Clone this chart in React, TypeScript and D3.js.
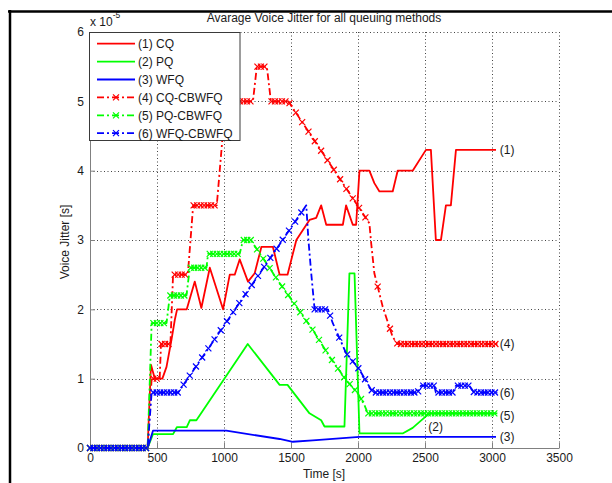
import React, { useRef, useEffect } from 'react'
import * as d3 from 'd3'

// values, jitter in units of 1e-5 s
const cqTime = [0, 430, 455, 484, 540, 571, 608, 633, 650, 722, 782, 831, 894, 993, 1043, 1080, 1117, 1179, 1229, 1279, 1365, 1415, 1474, 1540, 1638, 1688, 1725, 1763, 1887, 1911, 1961, 1986, 2011, 2085, 2122, 2160, 2259, 2296, 2408, 2507, 2544, 2581, 2619, 2656, 2693, 2731, 3030]
const cqJitter = [0, 0, 1.2, 1.0, 1.0, 1.17, 1.56, 1.85, 2.0, 2.0, 2.4, 2.02, 2.6, 2.0, 2.5, 2.5, 2.72, 2.4, 2.52, 2.9, 2.9, 2.5, 2.5, 3.0, 3.29, 3.32, 3.5, 3.22, 3.22, 3.5, 3.22, 3.22, 4.0, 4.0, 3.82, 3.7, 3.7, 4.0, 4.0, 4.3, 4.3, 3.0, 3.0, 3.5, 3.5, 4.3, 4.3]

const pqTime = [0, 430, 470, 620, 648, 722, 745, 794, 1177, 1415, 1474, 1638, 1725, 1750, 1899, 1936, 1974, 2011, 2333, 2408, 2532, 3030]
const pqJitter = [0, 0, 0.2, 0.2, 0.3, 0.3, 0.4, 0.4, 1.5, 0.91, 0.91, 0.5, 0.4, 0.31, 0.31, 2.52, 2.52, 0.21, 0.21, 0.29, 0.5, 0.5]

const wfqTime = [0, 430, 470, 1017, 1415, 1514, 1663, 2011, 3030]
const wfqJitter = [0, 0, 0.25, 0.25, 0.13, 0.09, 0.11, 0.16, 0.16]

const cqCbTime = [0, 430, 460, 520, 530, 600, 620, 730, 770, 946, 990, 1010, 1216, 1245, 1320, 1350, 1480, 2085, 2098, 2122, 2184, 2259, 2296, 3040]
const cqCbJitter = [0, 0, 1.0, 1.0, 1.5, 1.5, 2.5, 2.5, 3.5, 3.5, 4.5, 5.0, 5.0, 5.5, 5.5, 5.0, 5.0, 3.24, 2.96, 2.52, 2.04, 1.6, 1.5, 1.5]

const pqCbTime = [0, 430, 460, 571, 596, 720, 745, 869, 881, 1117, 1142, 1200, 1415, 1514, 1663, 1787, 1911, 1998, 2048, 2073, 3040]
const pqCbJitter = [0, 0, 1.8, 1.8, 2.2, 2.2, 2.6, 2.6, 2.8, 2.8, 3.0, 3.0, 2.38, 2.11, 1.7, 1.32, 0.98, 0.79, 0.62, 0.5, 0.5]

const wfqCbTime = [0, 430, 460, 658, 1614, 1630, 1651, 1676, 1775, 1812, 1911, 2011, 2098, 2122, 2445, 2470, 2569, 2581, 2706, 2731, 2830, 2867, 3040]
const wfqCbJitter = [0, 0, 0.8, 0.8, 3.5, 3.0, 2.52, 2.0, 2.0, 1.8, 1.37, 1.13, 0.84, 0.8, 0.8, 0.9, 0.9, 0.8, 0.8, 0.9, 0.9, 0.8, 0.8]

const seriesNames = ["(1) CQ", "(2) PQ", "(3) WFQ", "(4) CQ-CBWFQ", "(5) PQ-CBWFQ", "(6) WFQ-CBWFQ"]
const seriesColors = ["#ff0000", "#00ff00", "#0000ff", "#ff0000", "#00ff00", "#0000ff"]
const seriesDashed = [false, false, false, true, true, true]

const xTicks = [0, 500, 1000, 1500, 2000, 2500, 3000, 3500]
const yTicks = [0, 1, 2, 3, 4, 5, 6]

const endLabels = ["(1)", "(2)", "(3)", "(4)", "(5)", "(6)"]
const endLabelTime = [3058, 2525, 3058, 3058, 3058, 3058]
const endLabelJitter = [4.3, 0.3, 0.16, 1.51, 0.47, 0.79]

const FONT = "'Liberation Sans', Arial, sans-serif"
const FS = 12

// x markers spaced along the drawn line (denser where it runs flat)
function markerSpots(pts: [number, number][], step: number) {
    const out: [number, number][] = [pts[0]]
    let acc = 0
    for (let i = 1; i < pts.length; i++) {
        const [x0, y0] = pts[i - 1]
        const [x1, y1] = pts[i]
        const dx = x1 - x0, dy = y1 - y0
        const ds = Math.hypot(dx, dy)
        if (ds === 0) continue
        const c = dx * dx / ds
        let pos = 0
        while (c > 0 && acc + (c - pos) >= step) {
            pos += step - acc
            acc = 0
            const f = pos / c
            out.push([x0 + f * dx, y0 + f * dy])
        }
        acc += c - pos
    }
    return out
}

const App = () => {
    const svgRef = useRef<SVGSVGElement>(null)

    useEffect(() => {
        const svg = d3.select(svgRef.current)
        svg.selectAll("*").remove()

        const x = d3.scaleLinear().domain([0, 3500]).range([90, 559])
        const y = d3.scaleLinear().domain([0, 6]).range([448, 32])

        const series = [
            [cqTime, cqJitter], [pqTime, pqJitter], [wfqTime, wfqJitter],
            [cqCbTime, cqCbJitter], [pqCbTime, pqCbJitter], [wfqCbTime, wfqCbJitter],
        ].map(([t, v], i) => ({
            name: seriesNames[i],
            color: seriesColors[i],
            dashed: seriesDashed[i],
            points: t.map((tt, k) => [tt, v[k]] as [number, number]),
        }))

        // frame of the figure
        svg.append("line").attr("x1", 8).attr("x2", 612).attr("y1", 11.5).attr("y2", 11.5)
            .attr("stroke", "#000").attr("stroke-width", 2.5)
        svg.append("line").attr("x1", 10).attr("x2", 10).attr("y1", 10).attr("y2", 483)
            .attr("stroke", "#000").attr("stroke-width", 2.5)

        // dotted grid
        const grid = svg.append("g").attr("stroke", "#444").attr("stroke-width", 1)
            .attr("stroke-dasharray", "1,2.5")
        grid.selectAll(".gx").data(xTicks.slice(1)).join("line")
            .attr("x1", d => Math.round(x(d)) + 0.5).attr("x2", d => Math.round(x(d)) + 0.5)
            .attr("y1", y(6)).attr("y2", y(0))
        grid.selectAll(".gy").data(yTicks.slice(1)).join("line")
            .attr("y1", d => Math.round(y(d)) + 0.5).attr("y2", d => Math.round(y(d)) + 0.5)
            .attr("x1", x(0)).attr("x2", x(3500))

        // axes
        const xAxis = svg.append("g").attr("transform", `translate(0,${y(0)})`)
            .call(d3.axisBottom(x).tickValues(xTicks).tickFormat(d3.format("d")).tickSizeInner(-5).tickSizeOuter(0).tickPadding(5))
        const yAxis = svg.append("g").attr("transform", `translate(${x(0)},0)`)
            .call(d3.axisLeft(y).tickValues(yTicks).tickFormat(d3.format("d")).tickSizeInner(-5).tickSizeOuter(0).tickPadding(6))
        for (const ax of [xAxis, yAxis]) {
            ax.select(".domain").attr("stroke", "#808080")
            ax.selectAll(".tick line").attr("stroke", "#808080")
            ax.selectAll(".tick text").attr("fill", "#1a1a1a").attr("font-size", FS).attr("font-family", FONT)
        }

        // lines
        const line = d3.line<[number, number]>().x(d => x(d[0])).y(d => y(d[1]))
        const xMark = "M-3,-3L3,3M-3,3L3,-3"
        series.forEach(s => {
            svg.append("path")
                .attr("d", line(s.points))
                .attr("fill", "none")
                .attr("stroke", s.color)
                .attr("stroke-width", 1.8)
                .attr("stroke-linejoin", "round")
                .attr("stroke-dasharray", s.dashed ? "7,3,2,3" : null)
            if (s.dashed) {
                const px = s.points.map(p => [x(p[0]), y(p[1])] as [number, number])
                svg.append("g").selectAll("path").data(markerSpots(px, 3.5)).join("path")
                    .attr("d", xMark)
                    .attr("transform", d => `translate(${d[0]},${d[1]})`)
                    .attr("fill", "none")
                    .attr("stroke", s.color)
                    .attr("stroke-width", 1.2)
            }
        })

        // labels at the ends of the curves
        svg.append("g").attr("font-family", FONT).attr("font-size", FS).attr("fill", "#1a1a1a")
            .selectAll("text").data(endLabels).join("text")
            .attr("x", (d, i) => x(endLabelTime[i]))
            .attr("y", (d, i) => y(endLabelJitter[i]))
            .attr("dy", "0.35em")
            .text(d => d)

        // legend
        const legend = svg.append("g").attr("font-family", FONT).attr("font-size", FS)
        legend.append("rect").attr("x", 89.5).attr("y", 32.5).attr("width", 150.5).attr("height", 108)
            .attr("fill", "#fff").attr("stroke", "#3a3a3a").attr("stroke-width", 1)
        series.forEach((s, i) => {
            const ly = 43.7 + i * 17.9
            legend.append("line").attr("x1", 97).attr("x2", 135).attr("y1", ly).attr("y2", ly)
                .attr("stroke", s.color).attr("stroke-width", 1.8)
                .attr("stroke-dasharray", s.dashed ? "7,3,2,3" : null)
            if (s.dashed) {
                legend.append("path").attr("d", xMark).attr("transform", `translate(116,${ly})`)
                    .attr("fill", "none").attr("stroke", s.color).attr("stroke-width", 1.2)
            }
            legend.append("text").attr("x", 138).attr("y", ly).attr("dy", "0.36em")
                .attr("fill", "#1a1a1a").text(s.name)
        })

        // title, exponent and axis labels
        svg.append("text").attr("x", 324).attr("y", 22).attr("text-anchor", "middle")
            .attr("font-family", FONT).attr("font-size", FS).attr("fill", "#1a1a1a")
            .text("Avarage Voice Jitter for all queuing methods")
        const expo = svg.append("text").attr("x", 90).attr("y", 26)
            .attr("font-family", FONT).attr("font-size", FS).attr("fill", "#1a1a1a")
        expo.append("tspan").text("x 10")
        expo.append("tspan").attr("dy", -8).attr("font-size", 8.5).text("-5")
        svg.append("text").attr("x", 324).attr("y", 478).attr("text-anchor", "middle")
            .attr("font-family", FONT).attr("font-size", FS).attr("fill", "#1a1a1a")
            .text("Time [s]")
        svg.append("text").attr("transform", "translate(69,242) rotate(-90)").attr("text-anchor", "middle")
            .attr("font-family", FONT).attr("font-size", FS).attr("fill", "#1a1a1a")
            .text("Voice Jitter [s]")
    }, [])

    return (
        <svg ref={svgRef} width={612} height={483}
            style={{ position: 'absolute', left: 0, top: 0, background: '#fff' }} />
    )
}

export default App
